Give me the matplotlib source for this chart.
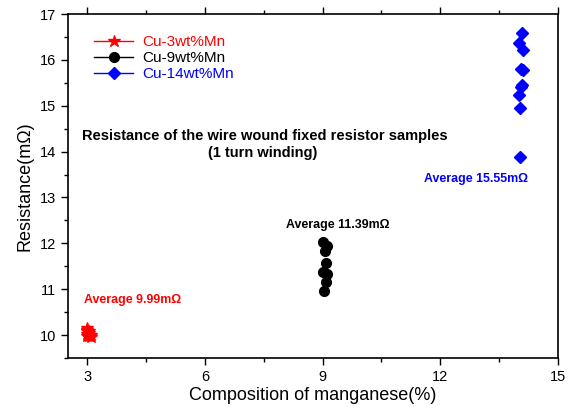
import matplotlib
matplotlib.use("Agg")
import matplotlib.pyplot as plt
from matplotlib.ticker import MultipleLocator
from matplotlib.lines import Line2D

plt.rcParams['font.family'] = ['Liberation Sans', 'DejaVu Sans']

# Cu-3wt%Mn
x3 = [3.0, 3.0, 3.05, 3.0, 3.1, 3.05, 3.0, 3.1, 3.05, 3.0]
r3 = [10.15, 10.1, 10.08, 10.02, 10.0, 9.97, 9.98, 9.95, 10.05, 10.12]
# Cu-9wt%Mn
x9 = [9.0, 9.12, 9.05, 9.08, 9.0, 9.12, 9.08, 9.03]
r9 = [12.03, 11.94, 11.83, 11.58, 11.37, 11.33, 11.15, 10.97]
# Cu-14wt%Mn
x14 = [14.08, 14.02, 14.1, 14.05, 14.1, 14.08, 14.05, 14.0, 14.03, 14.03]
r14 = [16.59, 16.37, 16.22, 15.8, 15.77, 15.46, 15.41, 15.24, 14.95, 13.89]

fig = plt.figure(figsize=(5.74, 4.12), dpi=100)
ax = fig.add_axes([0.118, 0.131, 0.854, 0.835])

ax.plot(x3, r3, color='red', marker='*', markersize=9, linestyle='none')
ax.plot(x9, r9, color='black', marker='o', markersize=7, linestyle='none')
ax.plot(x14, r14, color='blue', marker='D', markersize=6, linestyle='none')

ax.set_xlim(2.5, 15)
ax.set_ylim(9.5, 17)
ax.xaxis.set_major_locator(MultipleLocator(3))
ax.xaxis.set_minor_locator(MultipleLocator(1.5))
ax.yaxis.set_major_locator(MultipleLocator(1))
ax.yaxis.set_minor_locator(MultipleLocator(0.5))
ax.tick_params(which='both', direction='out', top=True, labelsize=10.5, width=1)
ax.tick_params(which='major', length=5)
ax.tick_params(which='minor', length=3)
for s in ax.spines.values():
    s.set_linewidth(1.2)

ax.set_xlabel('Composition of manganese(%)', fontsize=13, labelpad=2)
ax.set_ylabel('Resistance(m\u03a9)', fontsize=13, labelpad=4)

# legend with line-through markers
handles = [
    Line2D([], [], color='red', marker='*', markersize=9, lw=1),
    Line2D([], [], color='black', marker='o', markersize=7, lw=1),
    Line2D([], [], color='blue', marker='D', markersize=6, lw=1),
]
leg = ax.legend(handles, ['Cu-3wt%Mn', 'Cu-9wt%Mn', 'Cu-14wt%Mn'],
                loc='upper left', frameon=False, fontsize=11,
                handlelength=2.6, labelspacing=0.12, handletextpad=0.55,
                bbox_to_anchor=(0.025, 0.978))
for t, c in zip(leg.get_texts(), ['red', 'black', 'blue']):
    t.set_color(c)

bold = dict(fontweight='bold', ha='center', va='center')
ax.text(7.53, 14.33, 'Resistance of the wire wound fixed resistor samples',
        fontsize=10.5, **bold)
ax.text(7.47, 13.96, '(1 turn winding)', fontsize=10.5, **bold)
ax.text(12.92, 13.4, 'Average 15.55m\u03a9', color='blue', fontsize=8.9, **bold)
ax.text(9.38, 12.41, 'Average 11.39m\u03a9', color='black', fontsize=8.9, **bold)
ax.text(4.15, 10.76, 'Average 9.99m\u03a9', color='red', fontsize=8.9, **bold)

fig.savefig('out.png', dpi=100)
